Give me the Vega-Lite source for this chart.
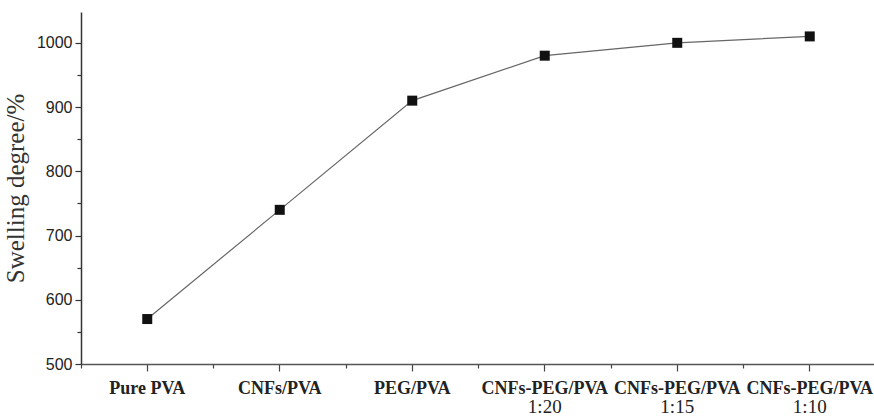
{
  "$schema": "https://vega.github.io/schema/vega-lite/v6.json",
  "width": 795,
  "height": 352,
  "autosize": "none",
  "padding": {"left": 81, "top": 12, "right": 0, "bottom": 55},
  "background": "white",
  "config": {"view": {"stroke": null}},
  "data": {"values": [
    {"cat": "Pure PVA", "value": 570},
    {"cat": "CNFs/PVA", "value": 740},
    {"cat": "PEG/PVA", "value": 910},
    {"cat": "CNFs-PEG/PVA|1:20", "value": 980},
    {"cat": "CNFs-PEG/PVA|1:15", "value": 1000},
    {"cat": "CNFs-PEG/PVA|1:10", "value": 1010}
  ]},
  "resolve": {"scale": {"x": "shared"}, "axis": {"x": "independent"}},
  "layer": [
    {
      "encoding": {
        "x": {"field": "cat", "type": "nominal", "sort": null,
          "scale": {"type": "band", "paddingInner": 0, "paddingOuter": 0},
          "axis": {"title": null, "orient": "bottom", "labelAngle": 0,
            "labelExpr": "split(datum.label, '|')[0]",
            "labelFont": "Liberation Serif", "labelFontWeight": "bold", "labelFontSize": 18,
            "labelColor": "#222", "labelPadding": 8, "labelLimit": 200,
            "domainColor": "#555", "domainWidth": 1.5,
            "tickColor": "#444", "tickWidth": 1.2, "tickSize": 7}},
        "y": {"field": "value", "type": "quantitative",
          "scale": {"domain": [500, 1048], "nice": false, "zero": false},
          "axis": {"title": "Swelling degree/%",
            "titleFont": "Liberation Serif", "titleFontWeight": "normal", "titleFontSize": 25,
            "titleColor": "#333", "titlePadding": 8,
            "values": [500, 550, 600, 650, 700, 750, 800, 850, 900, 950, 1000],
            "format": "d",
            "labelExpr": "datum.value % 100 == 0 ? datum.label : ''",
            "labelFont": "Liberation Sans", "labelFontSize": 16, "labelColor": "#222", "labelPadding": 3,
            "domainColor": "#333", "domainWidth": 1.5,
            "tickColor": "#333", "tickWidth": 1.2,
            "tickSize": {"condition": {"test": "datum.value % 100 == 0", "value": 6}, "value": 4},
            "grid": false}}
      },
      "layer": [
        {"mark": {"type": "line", "color": "#666", "strokeWidth": 1.2}},
        {"mark": {"type": "point", "shape": "square", "filled": true, "color": "#111", "size": 100, "opacity": 1}}
      ]
    },
    {
      "mark": {"type": "point", "opacity": 0},
      "encoding": {
        "x": {"field": "cat", "type": "nominal", "sort": null,
          "axis": {"title": null, "orient": "bottom", "labelAngle": 0, "domain": false, "ticks": false,
            "labelExpr": "length(split(datum.label, '|')) > 1 ? split(datum.label, '|')[1] : ''",
            "labelFont": "Liberation Serif", "labelFontWeight": "normal", "labelFontSize": 19,
            "labelColor": "#222", "labelPadding": 33}}
      }
    },
    {
      "mark": {"type": "point", "opacity": 0},
      "encoding": {
        "x": {"field": "cat", "type": "nominal", "sort": null,
          "axis": {"title": null, "orient": "bottom", "domain": false, "labels": false,
            "bandPosition": 0, "tickColor": "#444", "tickWidth": 1.2, "tickSize": 4}}
      }
    }
  ]
}
